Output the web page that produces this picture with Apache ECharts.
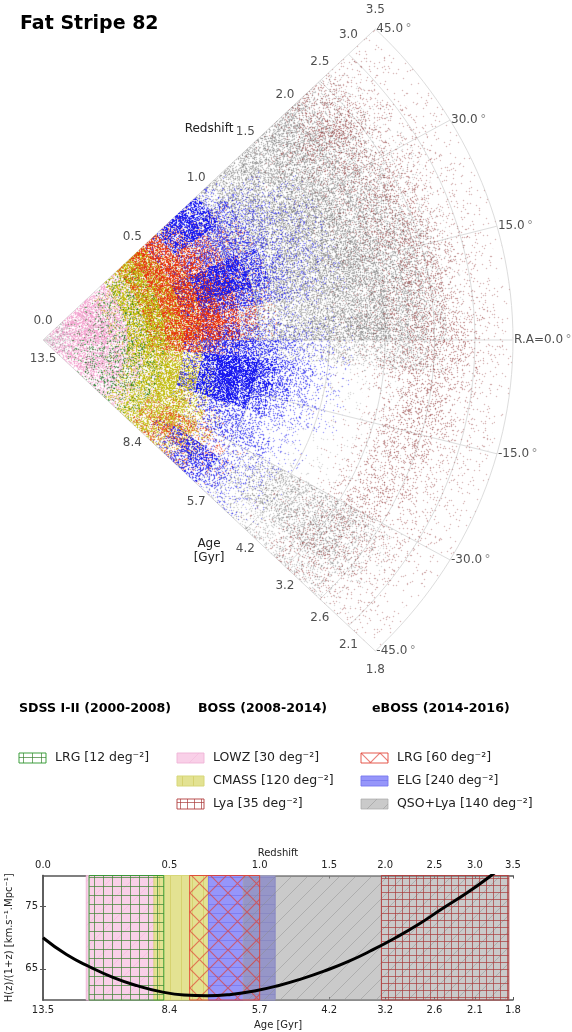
<!DOCTYPE html>
<html><head><meta charset="utf-8">
<style>html,body{margin:0;padding:0;background:#fff}#c{width:572px;height:1032px}</style>
<script src="https://cdn.jsdelivr.net/npm/echarts@6/dist/echarts.min.js"></script>
</head><body><div id="c"></div>
<script>
// Radial scale: percent of the outer radius (z = 3.5)
const redshiftLabels = ['0.0','0.5','1.0','1.5','2.0','2.5','3.0','3.5'];
const ageLabels = ['13.5','8.4','5.7','4.2','3.2','2.6','2.1','1.8'];
const tickRadius = [0, 26.9, 46.1, 60.9, 72.8, 83.3, 91.9, 100];
const raTicks = [45, 30, 15, 0, -15, -30, -45];

// Surface density read per 5 degree band: [ra centre, first 4% radial bin, densities in tenths of coverage]
const lowzCells = [
 [42.5,0,[2,4,5,5,3,1.5]],[37.5,0,[2,5,6,5,4,1.5]],[32.5,0,[2,5,6,5,4,1.5,.6]],[27.5,0,[2,5,6,5,4,1.5,.6]],
 [22.5,0,[2,5,6,5,4,1.5,.6]],[17.5,0,[2,5,6,5,4,1.5,.6]],[12.5,0,[2,5,6,5,4,1.5,.6]],[7.5,0,[2,5,6,5,4,1.5,.6]],
 [2.5,0,[2,5,6,5,4,1.5,.6]],[-2.5,0,[2,5,5,4,4,2,.6]],[-7.5,0,[2,5,5,4,4,2,.6]],[-12.5,0,[2,5,5,4,4,2,.6]],
 [-17.5,0,[2,5,5,4,4,2,.6]],[-22.5,0,[2,5,5,4,4,2,.6]],[-27.5,0,[2,5,5,4,4,2,.6]],[-32.5,0,[2,5,5,4,4,2,.6]],
 [-37.5,0,[2,5,5,4,3,2,.6]],[-42.5,0,[2,4,4,3,3,1.5,.6]]];
const sdssLrgCells = [
 [42.5,4,[.7,.7]],[37.5,3,[.5,1,1,.5]],[32.5,2,[.5,1,1,1]],[27.5,2,[.5,1,1,1]],
 [22.5,2,[.7,1,1,1]],[17.5,2,[.7,1,1,1]],[12.5,2,[.7,1,1,1]],[7.5,2,[.7,1,1,1]],
 [2.5,2,[.7,1,1,1]],[-2.5,2,[1,1.4,1.4,1.2]],[-7.5,2,[1,1.4,1.4,1.2]],[-12.5,2,[1,1.4,1.4,1.2]],
 [-17.5,2,[1,1.4,1.4,1.2]],[-22.5,2,[1,1.4,1.4,1.2]],[-27.5,2,[1,1.4,1.4,1.2]],[-32.5,2,[1,1.4,1.4,1.2]],
 [-37.5,2,[1,1.4,1.4,1.2]],[-42.5,3,[1,1.2,1]]];
const cmassCells = [
 [42.5,5,[5,7,2.5,.8]],[37.5,4,[2,6,7,3,.8]],[32.5,4,[2,6,7,3,.8]],[27.5,4,[2,7,7,3,.8]],
 [22.5,4,[2,7,7,4,1.5]],[17.5,4,[2,7,7,4,1.5]],[12.5,4,[2,7,7,4,1.5]],[7.5,4,[2,7,7,4,1.5]],
 [2.5,4,[2,7,7,4,.8]],[-2.5,4,[2,7,6,3,.8]],[-7.5,4,[1.5,6,6,4,1.5]],[-12.5,4,[1.5,5,6,6,3,.8]],
 [-17.5,4,[1.5,4,6,6,3,.8]],[-22.5,4,[.8,4,6,6,4,.8]],[-27.5,4,[.8,3,5,6,4,1.5]],[-32.5,4,[.8,3,5,5,5,2.5]],
 [-37.5,5,[4,5,5,4,2.5]],[-42.5,5,[3,5,4,2.5,1.5]]];
const ebossLrgCells = [
 [42.5,6,[3,6,4,1.5,.5]],[37.5,6,[4,6,5,2.5,1,.5]],[32.5,6,[4,6,6,4,2,1]],[27.5,6,[4,6,6,5,2,1]],
 [22.5,6,[3,6,7,5,3,1]],[17.5,6,[4,6,7,6,3,1]],[12.5,6,[3,6,7,6,3,1]],[7.5,6,[3,6,7,6,3,1]],
 [2.5,6,[3,6,7,6,3,.8]],[-2.5,6,[2,5,5,2,.6]],[-7.5,6,[.6,1,.6]],[-12.5,7,[.4,.4]],
 [-17.5,7,[.4,.4]],[-22.5,7,[.5,.5,.4]],[-27.5,7,[1,1,1,.5]],[-32.5,7,[2,3,2,1,.5]],
 [-37.5,7,[3,3,2,1.5,.8]],[-42.5,7,[2,2,1.5,1,.5]]];
const elgCells = [
 [42.5,8,[2,6,6,2,.6]],[37.5,8,[1.5,6,6.5,3.5,1.5,.7,.4]],[32.5,8,[1,2.5,3.5,3,2,1.3,.8,.5]],[27.5,8,[1.5,3,3.5,3,2,1.3,.9,.6]],
 [22.5,8,[3,6,6.5,5,2.5,1.4,.9,.6]],[17.5,8,[3,6,7,5,2.5,1.4,.9,.6]],[12.5,8,[2.5,4,4.5,3,2,1.2,.8,.5]],[7.5,8,[1.2,1.8,1.5,1,.6,.4,.3]],
 [2.5,8,[1.5,3,3,2,1.3,.8,.5,.3]],[-2.5,8,[3,5,5,4,2.5,1.4,.9,.5]],[-7.5,8,[3.5,7,7.5,6,3.5,2,1,.5]],[-12.5,8,[4,7.5,7.5,6,3.5,2,1,.5]],
 [-17.5,8,[3.5,7,6.5,4.5,2.5,1.4,.8,.4]],[-22.5,8,[1.2,3,3.5,2,1.2,.7,.4]],[-27.5,9,[.8,3,2.5,2,.8,.4]],[-32.5,9,[.5,1,1,1,.6,.4]],
 [-37.5,8,[1.2,4,5,3,1.2,.6,.4]],[-42.5,8,[.5,2.5,4,2.5,1,.5,.3]]];
const qsoCells = [
 [42.5,0,[2]],[37.5,0,[2]],[32.5,0,[2]],[27.5,0,[2]],[22.5,0,[2]],[17.5,0,[2]],[12.5,0,[2]],[7.5,0,[2]],[2.5,0,[2]],
 [-2.5,0,[2]],[-7.5,0,[2]],[-12.5,0,[2]],[-17.5,0,[2]],[-22.5,0,[2]],[-27.5,0,[2]],[-32.5,0,[2]],[-37.5,0,[2]],[-42.5,0,[2]],
 [42.5,11,[2,2.8,3.5,3.5,3.5,3.5,3.5,2.8,1.8,.9,.4]],[37.5,10,[1,2.8,3.5,3.5,3.5,3.5,3.5,3.5,2.8,1.8,.9,.4]],[32.5,10,[2,2.8,3.5,3.5,3.5,3.5,3.5,2.8,2.8,1.8,.9,.4]],
 [27.5,10,[2,2.8,3.5,3.5,3.5,4.2,3.5,3.5,2.8,1.8,.9,.4]],[22.5,11,[2,2.8,3.5,3.5,3.5,4.2,3.5,2.8,2.8,.9,.4]],[17.5,11,[2.8,2.8,3.5,3.5,3.5,4.2,4.2,2.8,2.8,1.8,.4]],
 [12.5,11,[2.8,3.5,3.5,3.5,3.5,4.2,3.5,3.5,2.8,1.8,.4]],[7.5,10,[1,2.8,2.8,2.8,2.8,3.5,3.5,3.5,3.5,2.8,1.8,.4]],[2.5,10,[2,2.8,2.8,3.5,3.5,3.5,4.2,4.2,3.5,2.8,1.8,.4]],
 [-2.5,11,[.6,1.2,1.2,1.2,1.8,1.8,1.8,1.8,1.8,1.2,.4]],[-7.5,11,[.15,.15,.15,.15,.15,.15,.15,.15,.15,.15]],[-12.5,11,[.12,.12,.12,.12,.12,.12,.12,.12,.12]],
 [-17.5,11,[.12,.12,.12,.12,.12,.12,.12,.12,.12]],[-22.5,11,[.12,.12,.12,.12,.12,.12,.12,.12,.12]],[-27.5,11,[.2,.2,.2,.2,.2,.2,.2,.2,.2]],
 [-32.5,11,[.3,.7,1.8,2.2,2.2,2.2,2.2,2.2,1.8,1.2,.4]],[-37.5,11,[.6,1.2,2.2,2.6,2.6,2.2,2.2,2.6,2.2,1.2,.4]],[-42.5,11,[.4,.7,1.2,1.2,1.2,1.2,1.2,1.2,1.2,.7,.3]]];
const lyaCells = [
 [42.5,15,[.1,.2,.3,.9,1.5,1.2,.5,.4,.3,.2]],[37.5,15,[.2,.3,.9,1.8,2.2,1.5,.6,.4,.3,.2]],[32.5,15,[.1,.3,.6,1.2,1.5,1.2,.6,.4,.3,.2]],
 [27.5,15,[.1,.2,.6,.9,1.2,1.2,.7,.4,.3,.2]],[22.5,15,[.1,.2,.5,.9,1.2,1.5,.9,.4,.3,.2]],[17.5,15,[.1,.2,.4,.9,1.2,1.5,1.1,.4,.3,.2]],
 [12.5,15,[.1,.2,.4,.7,1.2,1.5,1.2,.6,.3,.2]],[7.5,15,[.1,.2,.4,.7,1.2,1.5,1.2,.7,.3,.2]],[2.5,15,[.1,.2,.4,.7,1.2,1.5,1.5,.9,.4,.2]],
 [-2.5,15,[.1,.2,.3,.6,1.2,1.5,1.5,.9,.4,.2]],[-7.5,15,[.05,.1,.2,.6,1.2,1.5,1.2,.6,.4,.2]],[-12.5,15,[.05,.05,.1,.6,1.2,1.5,1.2,.6,.4,.2]],
 [-17.5,15,[.05,.05,.2,.6,1.2,1.5,.9,.5,.3,.2]],[-22.5,15,[.05,.05,.2,.7,1.2,1.2,.7,.4,.3,.2]],[-27.5,15,[.05,.1,.2,.9,1.2,.9,.6,.4,.3,.2]],
 [-32.5,15,[.1,.2,.4,.9,1.1,.8,.6,.4,.3,.2]],[-37.5,15,[.2,.2,.6,1.2,1.1,.7,.5,.4,.3,.2]],[-42.5,15,[.2,.2,.5,.9,.8,.6,.4,.3,.3,.15]]];

// Lower panel
const curveRadius = [0,5,10,15,20,25,30,35,40,45,50,55,60,65,70,75,80,85,90,95,100];
const curveH      = [70,67.3,65.3,63.6,62.3,61.35,60.8,60.68,60.9,61.45,62.3,63.4,64.7,66.2,68,70,72.2,74.7,77.1,79.8,82.8];
const bandNames = ['LOWZ','CMASS','ELG','QSO','SDSS LRG','LYA','eBOSS LRG'];
const bandStart = [9.2,23.6,35.2,42.6,9.8,72,31.2];
const bandEnd   = [23.6,35.2,49.4,99.1,25.7,99.1,46.1];

const legendRows = [
 ['LRG [12 deg⁻²]','SDSS LRG',0,0],
 ['LOWZ [30 deg⁻²]','LOWZ',1,0],['CMASS [120 deg⁻²]','CMASS',1,1],['Lya [35 deg⁻²]','LYA',1,2],
 ['LRG [60 deg⁻²]','eBOSS LRG',2,0],['ELG [240 deg⁻²]','ELG',2,1],['QSO+Lya [140 deg⁻²]','QSO',2,2]];
const legendHeads = ['SDSS I-II (2000-2008)','BOSS (2008-2014)','eBOSS (2014-2016)'];

const FONT = '"DejaVu Sans"', TEXT = '#222', GRID = '#dddddd';

// --- texture: a fine stipple standing in for individual targets
function noise(x, y, s) {
  let h = (x * 374761393 + y * 668265263 + s * 2147483647) | 0;
  h = Math.imul(h ^ (h >>> 13), 1274126177);
  h = Math.imul(h ^ (h >>> 16), 2246822519);
  return ((h ^ (h >>> 15)) >>> 0) / 4294967296;
}
const tileCache = {};
function stipple(rgb, seed, density) {
  const key = seed + '/' + density;
  if (tileCache[key]) return tileCache[key];
  const S = 128, cv = document.createElement('canvas');
  cv.width = cv.height = S;
  const ctx = cv.getContext('2d'), im = ctx.createImageData(S, S);
  const cover = density / 16, alpha = rgb[3] * (0.45 + 0.55 * Math.min(density, 8) / 8);
  const raw = new Float32Array(S * S), soft = new Float32Array(S * S);
  for (let y = 0; y < S; y++) for (let x = 0; x < S; x++) {
    if (noise(x, y, seed) < cover) raw[y * S + x] = alpha;
  }
  const at = (x, y) => raw[((y + S) % S) * S + ((x + S) % S)];
  for (let y = 0; y < S; y++) for (let x = 0; x < S; x++) {
    soft[y * S + x] = (6 * at(x, y) + at(x - 1, y) + at(x + 1, y) + at(x, y - 1) + at(x, y + 1)) / 10;
  }
  for (let n = 0; n < S * S; n++) {
    const i = n * 4;
    im.data[i] = rgb[0]; im.data[i+1] = rgb[1]; im.data[i+2] = rgb[2];
    im.data[i+3] = Math.min(255, soft[n] * 1.4);
  }
  ctx.putImageData(im, 0, 0);
  return tileCache[key] = {image: cv, repeat: 'repeat'};
}
function hatch(kind, color, step, width) {
  const cv = document.createElement('canvas');
  const n = Math.round(step);
  cv.width = cv.height = n;
  const c = cv.getContext('2d');
  c.strokeStyle = color; c.lineWidth = width;
  c.beginPath();
  if (kind.includes('|')) { c.moveTo(n/2, 0); c.lineTo(n/2, n); }
  if (kind.includes('-')) { c.moveTo(0, n/2); c.lineTo(n, n/2); }
  if (kind.includes('/')) { c.moveTo(0, n); c.lineTo(n, 0); }
  if (kind.includes('\\')) { c.moveTo(0, 0); c.lineTo(n, n); }
  c.stroke();
  return {image: cv, repeat: 'repeat'};
}
const bandStyle = {
  'LOWZ':      {fill: 'rgb(249,208,232)', hatch: hatch('/', 'rgba(240,170,210,0.35)', 22, 1), edge: 'rgba(240,180,215,0.9)'},
  'CMASS':     {fill: 'rgb(227,226,146)', hatch: hatch('|', 'rgba(205,200,90,0.6)', 11, 1), edge: 'rgba(215,215,120,1)'},
  'ELG':       {fill: 'rgb(150,150,250)', hatch: hatch('-', 'rgba(110,110,235,0.6)', 9, 1), edge: 'rgba(120,120,240,0.9)'},
  'QSO':       {fill: 'rgba(150,150,150,0.5)', hatch: hatch('/', 'rgba(140,140,140,0.45)', 16, 1), edge: 'rgba(170,170,170,0.7)'},
  'SDSS LRG':  {fill: null, hatch: hatch('|-', 'rgba(60,130,50,0.7)', 9, 1), edge: 'rgba(40,150,40,0.9)'},
  'LYA':       {fill: null, hatch: hatch('|-', 'rgba(170,60,60,0.7)', 7.3, 1), edge: 'rgba(178,60,60,0.9)'},
  'eBOSS LRG': {fill: null, hatch: hatch('/\\', 'rgba(225,60,50,0.65)', 19, 1.2), edge: 'rgba(224,60,45,0.85)'}
};

// --- polar -> panel coordinates (percent of the outer radius)
const toXY = (r, ra) => [r * Math.cos(ra * Math.PI / 180), r * Math.sin(ra * Math.PI / 180)];
const clampTo = (v, lo, hi) => Math.max(lo, Math.min(hi, v));
const RBIN = 4, RABAND = 5;
function sector(api, r0, r1, a0, a1) {
  const pts = [];
  for (let k = 0; k <= 3; k++) pts.push(api.coord(toXY(r0, a0 + k * (a1 - a0) / 3)));
  for (let k = 3; k >= 0; k--) pts.push(api.coord(toXY(r1, a0 + k * (a1 - a0) / 3)));
  return pts;
}
function cellSeries(name, rows, rgb, seed) {
  const data = [];
  rows.forEach(([ra, first, vals]) => vals.forEach((d, i) => data.push([ra, (first + i) * RBIN, d])));
  return {
    type: 'custom', name, xAxisIndex: 0, yAxisIndex: 0, silent: true, clip: false, z: 3,
    animation: false, dimensions: ['ra','r','density'], encode: {x: 1, y: 0},
    renderItem(params, api) {
      const ra = api.value(0), r = api.value(1), d = api.value(2);
      // radially each sector spans twice its bin so that neighbours blend evenly
      const r0 = clampTo(r - RBIN / 2, 0, 100), r1 = clampTo(r + RBIN * 1.5, 0, 100);
      const tile = stipple(rgb, seed + (Math.round(r / RBIN) % 2) * 101, d);
      return {type:'polygon', shape:{points:sector(api, r0, r1, ra - RABAND / 2, ra + RABAND / 2)}, style:{fill:tile}};
    },
    data
  };
}
function gridLines() {
  const out = [];
  const line = (pts) => out.push({type:'line', xAxisIndex:0, yAxisIndex:0, symbol:'none', silent:true, clip:false, z:1, animation:false,
    lineStyle:{color:GRID, width:1}, data:pts});
  tickRadius.slice(1).forEach(r => { const pts=[]; for (let a=-45;a<=45;a+=1.5) pts.push(toXY(r,a)); line(pts); });
  raTicks.forEach(a => line([toXY(0,a), toXY(100,a)]));
  return out;
}
function labelSeries(data, position, offset, align, rich, fmt) {
  return {type:'scatter', xAxisIndex:0, yAxisIndex:0, symbolSize:0, silent:true, clip:false, z:8, animation:false,
    label:{show:true, position, offset, align, verticalAlign:'middle', formatter:fmt, rich, fontFamily:FONT, fontSize:12, color:TEXT}, data};
}

const series = [
  ...gridLines(),
  cellSeries('LOWZ', lowzCells, [243,165,208,235], 11),
  cellSeries('CMASS', cmassCells, [195,190,20,225], 37),
  cellSeries('SDSS LRG', sdssLrgCells, [10,115,20,255], 23),
  cellSeries('QSO', qsoCells, [100,100,100,135], 41),
  cellSeries('eBOSS LRG', ebossLrgCells, [232,50,15,225], 53),
  cellSeries('ELG', elgCells, [25,25,240,225], 67),
  cellSeries('Lya', lyaCells, [140,45,45,200], 79),
  labelSeries(tickRadius.map((r,i)=>({value:toXY(r,45), name:redshiftLabels[i]})), 'inside', [0,-19], 'center', {}, p=>p.name),
  labelSeries(tickRadius.map((r,i)=>({value:toXY(r,-45), name:ageLabels[i]})), 'inside', [0,19], 'center', {}, p=>p.name),
  labelSeries(raTicks.map(a=>({value:toXY(100,a), name:(a===0?'R.A=':'')+a.toFixed(1)})), 'inside', [1,0], 'left',
    {deg:{color:'#777', fontSize:12, fontFamily:FONT}}, p=>p.name+'{deg|\u2009°}'),
  {type:'custom', xAxisIndex:1, yAxisIndex:1, silent:true, z:3, animation:false, encode:{x:[0,1]},
    renderItem(params, api) {
      const name = bandNames[params.dataIndex], st = bandStyle[name];
      const a = api.coord([api.value(0), 80]), b = api.coord([api.value(1), 60]);
      const shape = {x:a[0], y:a[1], width:b[0]-a[0], height:b[1]-a[1]};
      const children = [];
      if (st.fill) children.push({type:'rect', shape, style:{fill:st.fill}});
      children.push({type:'rect', shape, style:{fill:st.hatch}});
      children.push({type:'rect', shape, style:{fill:'none', stroke:st.edge, lineWidth:1}});
      return {type:'group', children};
    },
    data: bandStart.map((s,i)=>[s, bandEnd[i]])},
  {type:'line', xAxisIndex:1, yAxisIndex:1, data:curveRadius.map((r,i)=>[r,curveH[i]]), smooth:true, symbol:'none', silent:true, z:5, animation:false,
    lineStyle:{color:'#000', width:3}}
];

const frame = {lineStyle:{color:'#555', width:1.5}};
const zMap = Object.fromEntries(tickRadius.map((r,i)=>[r,redshiftLabels[i]]));
const aMap = Object.fromEntries(tickRadius.map((r,i)=>[r,ageLabels[i]]));
const smallLabel = {fontFamily:FONT, fontSize:10, color:TEXT};
const centerLabel = {alignMinLabel:'center', alignMaxLabel:'center'};

const txt = (x, y, text, fontSize, extra) => ({type:'text', x, y, z:20,
  style:Object.assign({text, fontFamily:FONT, fontSize, fill:TEXT, verticalAlign:'middle'}, extra)});
const graphic = [
  txt(20, 24, 'Fat Stripe 82', 19, {fontWeight:'bold', fill:'#000'}),
  txt(209, 129, 'Redshift', 12, {align:'center'}),
  txt(209, 544, 'Age', 12, {align:'center'}),
  txt(209, 558, '[Gyr]', 12, {align:'center'}),
  ...legendHeads.map((t,i)=>txt([19,198,372][i], 709, t, 12.6, {fontWeight:'bold', fill:'#000'}))
];
const colX = [19,177,361], rowY = [758,781,804];
legendRows.forEach(([label, band, col, row]) => {
  const st = bandStyle[band], x = colX[col], y = rowY[row];
  if (st.fill) graphic.push({type:'rect', x, y:y-5, shape:{width:27,height:10}, style:{fill:st.fill}});
  graphic.push({type:'rect', x, y:y-5, shape:{width:27,height:10}, style:{fill:st.hatch, stroke:st.edge, lineWidth:1}});
  graphic.push(txt(x+36, y, label, 12.5, {}));
});

const chart = echarts.init(document.getElementById('c'), null, {renderer:'canvas', width:572, height:1032});
chart.setOption({
  backgroundColor:'#fff', animation:false, graphic,
  grid:[{left:43, top:29, width:470, height:622, outerBoundsMode:'none'}, {left:43, top:875.5, width:470, height:124.5, outerBoundsMode:'none'}],
  xAxis:[
    {gridIndex:0, type:'value', min:0, max:100, show:false},
    {gridIndex:1, type:'value', min:0, max:100, position:'bottom', name:'Age [Gyr]', nameLocation:'middle', nameGap:20,
      nameTextStyle:smallLabel, axisLine:frame, splitLine:{show:false},
      axisTick:{inside:true, length:3, customValues:tickRadius, lineStyle:{color:'#555'}},
      axisLabel:{customValues:tickRadius, formatter:v=>aMap[v], margin:5, ...centerLabel, ...smallLabel}},
    {gridIndex:1, type:'value', min:0, max:100, position:'top', name:'Redshift', nameLocation:'middle', nameGap:17,
      nameTextStyle:smallLabel, axisLine:frame, splitLine:{show:false},
      axisTick:{inside:true, length:3, customValues:tickRadius, lineStyle:{color:'#555'}},
      axisLabel:{customValues:tickRadius, formatter:v=>zMap[v], margin:5, ...centerLabel, ...smallLabel}}
  ],
  yAxis:[
    {gridIndex:0, type:'value', min:-70.71, max:70.71, show:false},
    {gridIndex:1, type:'value', min:60, max:80, position:'left', name:'H(z)/(1+z) [km.s⁻¹.Mpc⁻¹]', nameLocation:'middle', nameGap:19,
      nameTextStyle:smallLabel, axisLine:frame, splitLine:{show:false},
      axisTick:{inside:true, length:3, customValues:[65,75], lineStyle:{color:'#555'}},
      axisLabel:{customValues:[65,75], margin:5, ...smallLabel}},
    {gridIndex:1, type:'value', min:60, max:80, position:'right', axisLine:frame, splitLine:{show:false},
      axisTick:{inside:true, length:3, customValues:[65,75], lineStyle:{color:'#555'}}, axisLabel:{show:false}}
  ],
  series
});
</script>
</body></html>
